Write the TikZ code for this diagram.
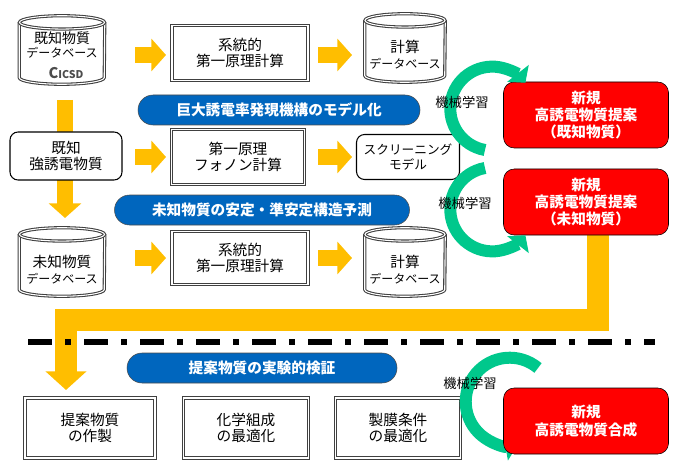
\documentclass[tikz,border=0pt]{standalone}
\usepackage{fontspec}
\setmainfont{Noto Sans CJK JP}
\usetikzlibrary{shapes.geometric,shapes.misc,arrows.meta}
\definecolor{yel}{RGB}{255,190,0}
\definecolor{blu}{RGB}{0,102,190}
\definecolor{grn}{RGB}{0,200,140}
\newcommand\mycyl[4]{% name, center x, center y, width
 \node[minimum width=#4*0.75pt,minimum height=68*0.75pt,inner sep=0pt] (#1) at (#2,#3) {};
 \draw[cylline] ([yshift=-5pt]#1.north west) -- ([yshift=5pt]#1.south west)
   arc[x radius=#4/2*0.75pt,y radius=5pt,start angle=180,end angle=360]
   -- ([yshift=-5pt]#1.north east);
 \draw[cylline] ([yshift=-5pt]#1.north) ellipse[x radius=#4/2*0.75pt,y radius=5pt];
}
\begin{document}
\begin{tikzpicture}[x=0.75pt,y=-0.75pt,font=\fontsize{11}{12}\selectfont,
 cylline/.style={draw=black!75,double=white,double distance=0.8pt,thick},
 box/.style={draw=black!75,double=white,double distance=1pt,thick,align=center,fill=white,inner sep=0pt},
 rbox/.style={draw=black,thick,rounded corners=6pt,align=center,fill=white,inner sep=0pt},
 pill/.style={rounded rectangle,draw=black!70,fill=blu,text=white,font=\fontsize{11}{12}\bfseries\selectfont,inner sep=0pt},
 red/.style={draw=black,fill=red,text=white,rounded corners=8pt,align=center,font=\fontsize{11}{13}\bfseries\selectfont,inner sep=0pt},
 yarr/.style={-{Triangle[length=11pt,width=24pt]},line width=12pt,yel},
 garr/.style={-{Triangle[length=9pt,width=20pt]},line width=9pt,grn},
 ml/.style={font=\fontsize{10}{11}\selectfont}]
\useasboundingbox (0,0) rectangle (680,470);
% yellow flow
\draw[yarr,line width=16pt,-{Triangle[length=14pt,width=30pt]}] (598,230) -- (598,320) -- (66,320) -- (66,390);
\draw[yarr] (65,100) -- (65,218);
\draw[line width=4pt,dash pattern=on 18pt off 10pt on 4pt off 10pt] (28,342) -- (655,342);
% row 1
\mycyl{c1}{62}{50}{85}
\node[font=\fontsize{10.5}{12}\selectfont,align=center] (t1) at (62,45) {既知物質\\[-2pt]{\fontsize{9}{10}\selectfont データベース}};
\node[font=\fontsize{8}{9}\selectfont\bfseries,text=black!70] (icsd) at (66,73) {{\fontsize{11}{11}\selectfont C}ICSD};
\node[box,minimum width=136pt*0.75,minimum height=55pt*0.75] (b1) at (240,53) {系統的\\第一原理計算};
\mycyl{c2}{405}{48}{80}
\node[align=center] (t2) at (405,55) {計算\\{\fontsize{9}{10}\selectfont データベース}};
\draw[yarr] (135,55) -- (166,55);
\draw[yarr] (318,55) -- (352,55);
\node[pill,minimum width=282pt*0.75,minimum height=30pt*0.75] (p1) at (279,110) {巨大誘電率発現機構のモデル化};
% row 2
\node[rbox,minimum width=112pt*0.75,minimum height=48pt*0.75] (k) at (66,156) {既知\\強誘電物質};
\node[box,minimum width=133pt*0.75,minimum height=55pt*0.75] (b2) at (238,157) {第一原理\\フォノン計算};
\node[rbox,minimum width=103pt*0.75,minimum height=45pt*0.75,font=\fontsize{9.5}{11}\selectfont] (s) at (408,157) {スクリーニング\\モデル};
\draw[yarr] (135,157) -- (166,157);
\draw[yarr] (318,157) -- (352,157);
\node[pill,minimum width=295pt*0.75,minimum height=30pt*0.75] (p2) at (262,210) {未知物質の安定・準安定構造予測};
% row 3
\mycyl{c3}{62}{262}{85}
\node[align=center] (t3) at (62,270) {未知物質\\{\fontsize{9}{10}\selectfont データベース}};
\node[box,minimum width=136pt*0.75,minimum height=53pt*0.75] (b3) at (240,258) {系統的\\第一原理計算};
\mycyl{c4}{405}{262}{80}
\node[align=center] (t4) at (405,270) {計算\\{\fontsize{9}{10}\selectfont データベース}};
\draw[yarr] (135,258) -- (166,258);
\draw[yarr] (318,258) -- (352,258);
% red boxes
\node[red,minimum width=165pt*0.75,minimum height=66pt*0.75] (r1) at (586,115) {新規\\高誘電物質提案\\（既知物質）};
\node[red,minimum width=165pt*0.75,minimum height=66pt*0.75] (r2) at (586,202) {新規\\高誘電物質提案\\（未知物質）};
% green arcs
\draw[garr] (485,150) arc[start angle=100,end angle=322,radius=42];
\draw[garr] (485,168) arc[start angle=260,end angle=38,radius=42];
\node[ml] (m1) at (462,102) {機械学習};
\node[ml] (m2) at (465,203) {機械学習};
% bottom
\node[pill,minimum width=270pt*0.75,minimum height=30pt*0.75] (p3) at (262,368) {提案物質の実験的検証};
\node[box,minimum width=130pt*0.75,minimum height=60pt*0.75] (e1) at (90,428) {提案物質\\の作製};
\node[box,minimum width=125pt*0.75,minimum height=60pt*0.75] (e2) at (246,428) {化学組成\\の最適化};
\node[box,minimum width=125pt*0.75,minimum height=60pt*0.75] (e3) at (398,428) {製膜条件\\の最適化};
\draw[garr] (538,368) arc[start angle=310,end angle=80,radius=44];
\node[ml] (m3) at (470,383) {機械学習};
\node[red,minimum width=165pt*0.75,minimum height=66pt*0.75] (r3) at (586,421) {新規\\高誘電物質合成};
\end{tikzpicture}
\end{document}
